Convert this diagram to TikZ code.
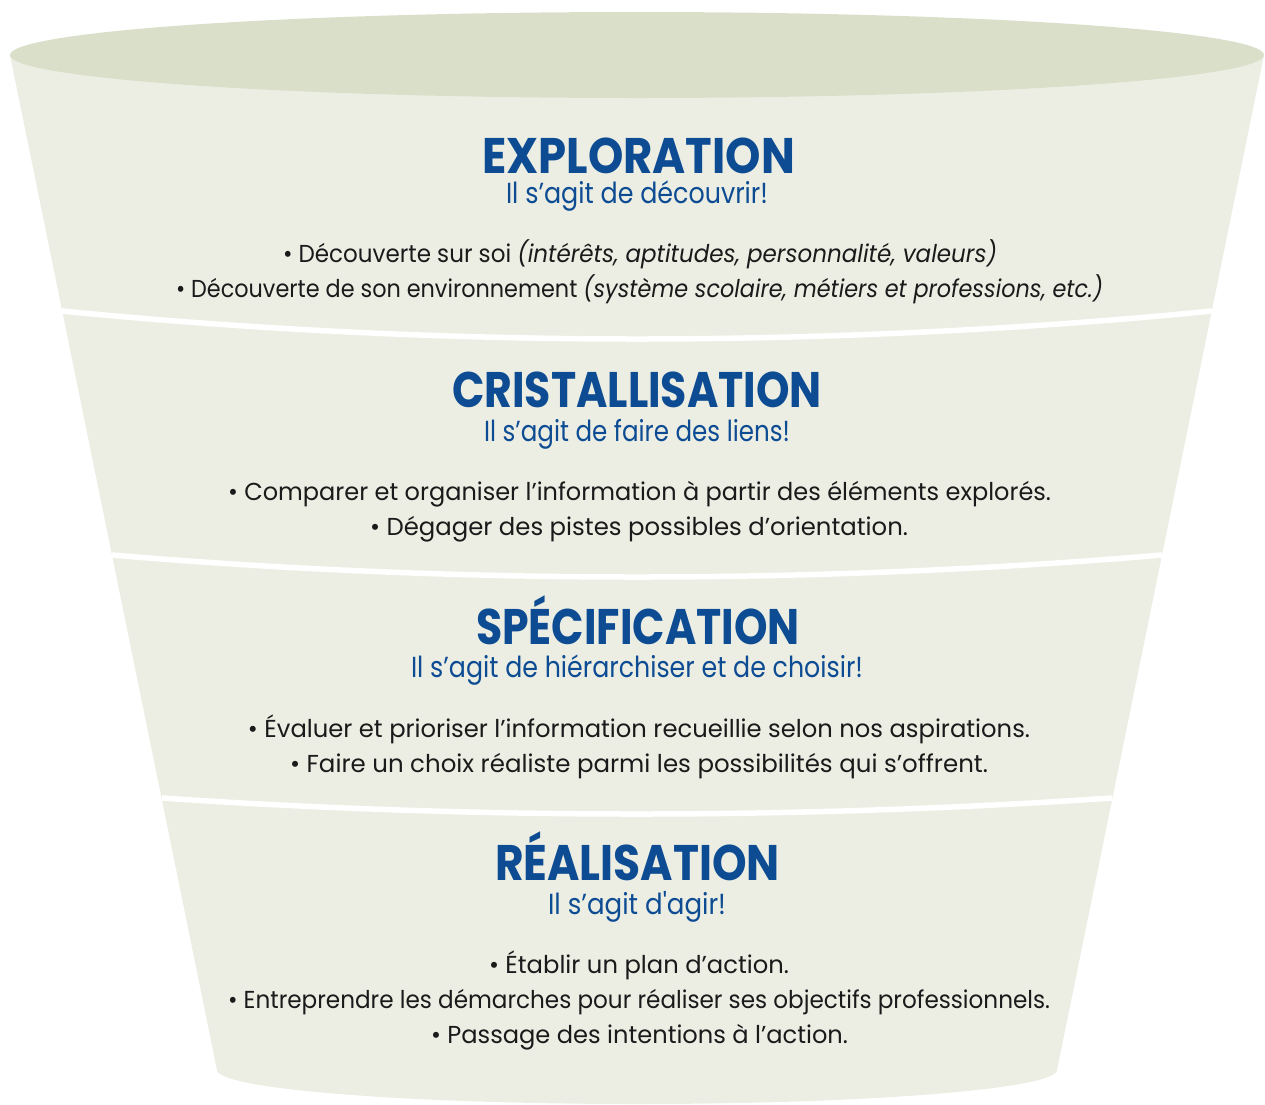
\documentclass[tikz,border=0pt]{standalone}
\usepackage{fontspec}
\setmainfont{Poppins}
\usepackage{graphicx}
\definecolor{funnel}{HTML}{ECEEE4}
\definecolor{rim}{HTML}{DADFCA}
\definecolor{ttl}{HTML}{0D4C93}
\definecolor{txt}{HTML}{1A1A1A}
\newsavebox\fitbox
\newcommand\fitw[2]{\sbox\fitbox{#2}\pgfmathsetmacro\fitr{#1/\the\wd\fitbox}\scalebox{\fitr}[1]{\usebox\fitbox}}
\tikzset{
  ttlnode/.style={anchor=base, inner sep=0pt, text=ttl, font=\fontsize{50}{50}\selectfont\bfseries},
  subnode/.style={anchor=base, inner sep=0pt, text=ttl, font=\fontsize{29}{29}\selectfont},
  itemnode/.style={anchor=base, inner sep=0pt, text=txt, font=\fontsize{24.5}{24.5}\selectfont},
  sepline/.style={draw=white, line width=5.5pt},
}
\begin{document}
\begin{tikzpicture}[x=1pt,y=-1pt]
\useasboundingbox (0,0) rectangle (1265,1104);
% funnel body
\path[fill=funnel] (10,55) -- (217,1070) arc[start angle=180,end angle=0,x radius=420,y radius=34] -- (1264,55) -- cycle;
% rim
\path[fill=rim] (637,55) ellipse[x radius=627, y radius=43];
% separators
\draw[sepline] (62,311) parabola bend (637,339) (1212,311);
\draw[sepline] (112,555) parabola bend (637,577) (1162,555);
\draw[sepline] (162,798) parabola bend (637,814) (1112,798);

% EXPLORATION
\node[ttlnode] (t1) at (638.5,173) {\fitw{313}{EXPLORATION}};
\node[subnode] (s1) at (637,203) {\fitw{262}{Il s’agit de découvrir!}};
\node[itemnode] (a1) at (640,262) {\fitw{714}{• Découverte sur soi \textit{(intérêts, aptitudes, personnalité, valeurs)}}};
\node[itemnode] (a2) at (639.5,297) {\fitw{927}{• Découverte de son environnement \textit{(système scolaire, métiers et professions, etc.)}}};

% CRISTALLISATION
\node[ttlnode] (t2) at (637,407) {\fitw{370}{CRISTALLISATION}};
\node[subnode] (s2) at (637,441) {\fitw{306}{Il s’agit de faire des liens!}};
\node[itemnode] (b1) at (639.5,500) {\fitw{823}{• Comparer et organiser l’information à partir des éléments explorés.}};
\node[itemnode] (b2) at (639,535) {\fitw{538}{• Dégager des pistes possibles d’orientation.}};

% SPECIFICATION
\node[ttlnode] (t3) at (638,644) {\fitw{324}{SPÉCIFICATION}};
\node[subnode] (s3) at (637,677) {\fitw{452}{Il s’agit de hiérarchiser et de choisir!}};
\node[itemnode] (c1) at (639,737) {\fitw{782}{• Évaluer et prioriser l’information recueillie selon nos aspirations.}};
\node[itemnode] (c2) at (639,772) {\fitw{698}{• Faire un choix réaliste parmi les possibilités qui s’offrent.}};

% REALISATION
\node[ttlnode] (t4) at (637.5,880) {\fitw{285}{RÉALISATION}};
\node[subnode] (s4) at (637,914) {\fitw{178}{Il s’agit d\textquotesingle agir!}};
\node[itemnode] (d1) at (639,973) {\fitw{300}{• Établir un plan d’action.}};
\node[itemnode] (d2) at (639,1008) {\fitw{822}{• Entreprendre les démarches pour réaliser ses objectifs professionnels.}};
\node[itemnode] (d3) at (639.5,1043) {\fitw{417}{• Passage des intentions à l’action.}};
\end{tikzpicture}
\end{document}
